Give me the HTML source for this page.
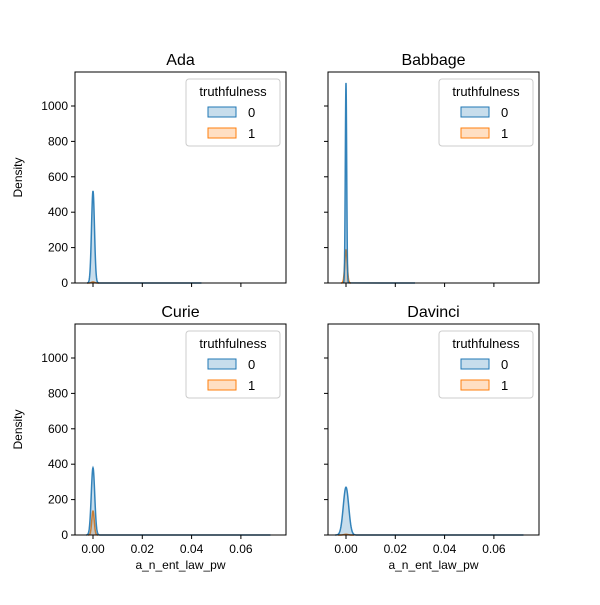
<!DOCTYPE html>
<html><head><meta charset="utf-8"><style>body{margin:0;background:#fff}svg text{font-family:"Liberation Sans","DejaVu Sans",sans-serif;}</style></head>
<body>
<svg id="chart" width="600" height="600" viewBox="0 0 600 600" xmlns="http://www.w3.org/2000/svg"></svg>
<script>
const panelTitles = ["Ada", "Babbage", "Curie", "Davinci"];
const blueSeriesPeak = [520, 1130, 380, 270];
const blueSeriesStd = [0.0006, 0.00028, 0.0007, 0.0011];
const orangeSeriesPeak = [6, 185, 135, 4];
const orangeSeriesStd = [0.0006, 0.0005, 0.0005, 0.0008];
const tailEnd = [0.044, 0.028, 0.072, 0.072];
const xTicks = [0.00, 0.02, 0.04, 0.06];
const xTickLabels = ["0.00", "0.02", "0.04", "0.06"];
const yTicks = [0, 200, 400, 600, 800, 1000];
const legendLabels = ["0", "1"];

const NS = "http://www.w3.org/2000/svg";
const svg = document.getElementById("chart");
function mk(tag, attrs, parent) { const e = document.createElementNS(NS, tag); for (const k in attrs) e.setAttribute(k, attrs[k]); (parent || svg).appendChild(e); return e; }
const W = 211, H = 211, xMin = -0.0073, xMax = 0.0783, yMax = 1192;
const lefts = [75, 328, 75, 328], tops = [72, 72, 324, 324];
const colors = [["#1f77b4", "rgba(31,119,180,0.25)"], ["#ff7f0e", "rgba(255,127,14,0.25)"]];

panelTitles.forEach((title, i) => {
  const L = lefts[i], T = tops[i];
  const sx = v => L + (v - xMin) / (xMax - xMin) * W;
  const sy = v => T + H - v / yMax * H;
  const g = mk("g", {});
  
  
  const peaks = [blueSeriesPeak[i], orangeSeriesPeak[i]];
  const stds = [blueSeriesStd[i], orangeSeriesStd[i]];
  [1, 0].forEach(s => {
    let d = "";
    const lo = -4 * stds[s], hi = 4 * stds[s];
    for (let k = 0; k <= 60; k++) {
      const x = lo + (hi - lo) * k / 60;
      const y = peaks[s] * Math.exp(-0.5 * (x / stds[s]) ** 2);
      d += (k ? "L" : "M") + sx(x).toFixed(2) + "," + sy(y).toFixed(2);
    }
    const fill = mk("path", { d: d + "Z", fill: colors[s][1], stroke: "none" }, g);
    
    
    const tail = s === 0 ? "L" + sx(tailEnd[i]).toFixed(2) + "," + sy(0) : "";
    const line = mk("path", { d: d + tail, fill: "none", stroke: colors[s][0], "stroke-width": 1.5, "stroke-opacity": s === 0 ? 0.9 : 1 }, g);
    
    
  });
  const frame = mk("rect", { x: L, y: T, width: W, height: H, fill: "none", stroke: "#000", "stroke-width": 1 }, g);
  
  
  const t = mk("text", { x: L + W / 2, y: T - 7, "text-anchor": "middle", "font-size": 16 }, g);
  t.textContent = title;
  
  
  xTicks.forEach((v, k) => {
    mk("line", { x1: sx(v), x2: sx(v), y1: T + H, y2: T + H + 4, stroke: "#000" }, g);
    if (i >= 2) {
      const tl = mk("text", { x: sx(v), y: T + H + 18, "text-anchor": "middle", "font-size": 12 }, g);
      tl.textContent = xTickLabels[k];
      
      
    }
  });
  yTicks.forEach(v => {
    mk("line", { x1: L - 4, x2: L, y1: sy(v), y2: sy(v), stroke: "#000" }, g);
    if (i % 2 === 0) {
      const tl = mk("text", { x: L - 7, y: sy(v) + 4, "text-anchor": "end", "font-size": 12 }, g);
      tl.textContent = v;
      
      
    }
  });
  if (i % 2 === 0) {
    const yl = mk("text", { x: 0, y: 0, transform: "translate(22," + (T + H / 2) + ") rotate(-90)", "text-anchor": "middle", "font-size": 12 }, g);
    yl.textContent = "Density";
    
    
  }
  if (i >= 2) {
    const xl = mk("text", { x: L + W / 2, y: T + H + 34, "text-anchor": "middle", "font-size": 12 }, g);
    xl.textContent = "a_n_ent_law_pw";
    
    
  }
  const lg = mk("g", {}, g);
  
  
  mk("rect", { x: L + 111, y: T + 7, width: 94, height: 67, rx: 3, fill: "rgba(255,255,255,0.8)", stroke: "#ccc" }, lg);
  const lt = mk("text", { x: L + 158, y: T + 24, "text-anchor": "middle", "font-size": 13 }, lg);
  lt.textContent = "truthfulness";
  
  
  legendLabels.forEach((lab, s) => {
    const yy = T + 35 + s * 21;
    const r = mk("rect", { x: L + 133, y: yy, width: 28, height: 10, fill: colors[s][1], stroke: colors[s][0] }, lg);
    
    
    const tx = mk("text", { x: L + 173, y: yy + 10, "font-size": 13 }, lg);
    tx.textContent = lab;
    
    
  });
});
</script>
</body></html>
